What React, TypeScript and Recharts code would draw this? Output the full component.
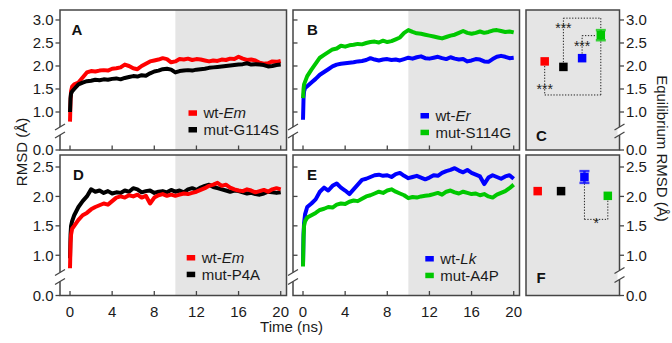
import React from 'react';
import {
  LineChart, Line, XAxis, YAxis, ReferenceArea, ScatterChart, Scatter,
  ErrorBar, ReferenceLine, ReferenceDot,
} from 'recharts';

const FONT = '"Liberation Sans", Arial, Helvetica, sans-serif';
const AXIS = '#454545';
const TXT = '#1a1a1a';
const SHADE = '#e5e5e5';
const RED = '#ff0000';
const BLACK = '#000000';
const BLUE = '#0000ff';
const GREEN = '#00c800';

// ---------- data ----------
const times = [0, 0.05, 0.1, 0.2, 0.4, 0.8, 1.2, 1.6, 2, 2.4, 2.8, 3.2, 3.6, 4, 4.4, 4.8, 5.2, 5.6, 6, 6.4,
  6.8, 7.2, 7.6, 8, 8.4, 8.8, 9.2, 9.6, 10, 10.4, 10.8, 11.2, 11.6, 12, 12.4, 12.8, 13.2, 13.6, 14, 14.4,
  14.8, 15.2, 15.6, 16, 16.4, 16.8, 17.2, 17.6, 18, 18.4, 18.8, 19.2, 19.6, 20];

const wtEmA = [0.79, 1.25, 1.45, 1.55, 1.60, 1.64, 1.75, 1.86, 1.89, 1.88, 1.90, 1.91, 1.90, 1.94,
  1.95, 1.97, 2.03, 2.00, 1.95, 1.93, 2.00, 2.05, 2.10, 2.12,
  2.14, 2.17, 2.15, 2.08, 2.10, 2.15, 2.14, 2.16, 2.13, 2.15,
  2.14, 2.12, 2.10, 2.12, 2.11, 2.14, 2.13, 2.16, 2.15, 2.20,
  2.16, 2.13, 2.14, 2.12, 2.07, 2.05, 2.06, 2.10, 2.09, 2.11];
const mutG114S = [1.00, 1.30, 1.40, 1.45, 1.50, 1.60, 1.64, 1.67, 1.68, 1.70, 1.69, 1.71, 1.70, 1.72,
  1.73, 1.71, 1.74, 1.76, 1.78, 1.77, 1.80, 1.79, 1.84, 1.88,
  1.90, 1.93, 1.94, 1.92, 1.86, 1.89, 1.90, 1.91, 1.90, 1.92,
  1.93, 1.94, 1.96, 1.97, 1.98, 1.99, 2.00, 2.01, 2.02, 2.03,
  2.04, 2.06, 2.03, 2.04, 2.03, 2.02, 1.99, 2.00, 2.02, 2.03];
const wtEr = [0.83, 1.30, 1.45, 1.52, 1.56, 1.64, 1.72, 1.81, 1.87, 1.93, 1.99, 2.03, 2.05, 2.06,
  2.07, 2.08, 2.10, 2.11, 2.13, 2.17, 2.14, 2.12, 2.14, 2.15,
  2.13, 2.14, 2.12, 2.15, 2.18, 2.16, 2.19, 2.21, 2.17, 2.16,
  2.18, 2.20, 2.17, 2.15, 2.19, 2.16, 2.14, 2.15, 2.10, 2.12,
  2.15, 2.14, 2.10, 2.09, 2.15, 2.20, 2.22, 2.20, 2.17, 2.18];
const mutS114G = [1.30, 1.50, 1.60, 1.66, 1.78, 1.92, 2.05, 2.18, 2.24, 2.30, 2.36, 2.38, 2.44, 2.42,
  2.45, 2.46, 2.48, 2.47, 2.50, 2.52, 2.53, 2.51, 2.55, 2.52,
  2.54, 2.58, 2.62, 2.72, 2.78, 2.74, 2.71, 2.70, 2.68, 2.66,
  2.64, 2.62, 2.60, 2.63, 2.66, 2.68, 2.72, 2.76, 2.72, 2.70,
  2.72, 2.75, 2.72, 2.74, 2.77, 2.78, 2.76, 2.74, 2.75, 2.73];
const wtEmD = [0.78, 1.20, 1.35, 1.45, 1.50, 1.60, 1.68, 1.72, 1.78, 1.82, 1.85, 1.88, 1.86, 1.92,
  1.98, 2.00, 1.98, 2.02, 2.00, 2.03, 1.98, 2.01, 1.88, 1.98,
  2.02, 2.04, 2.01, 2.03, 2.01, 2.03, 2.05, 2.04, 2.06, 2.08,
  2.11, 2.14, 2.18, 2.20, 2.23, 2.18, 2.20, 2.15, 2.12, 2.10,
  2.09, 2.12, 2.10, 2.07, 2.09, 2.11, 2.08, 2.12, 2.14, 2.12];
const mutP4A = [0.95, 1.35, 1.50, 1.58, 1.68, 1.82, 1.92, 2.00, 2.12, 2.08, 2.10, 2.06, 2.09, 2.05,
  2.07, 2.06, 2.10, 2.08, 2.14, 2.12, 2.07, 2.09, 2.10, 2.06,
  2.08, 2.09, 2.07, 2.11, 2.08, 2.10, 2.07, 2.12, 2.14, 2.11,
  2.15, 2.18, 2.20, 2.16, 2.14, 2.12, 2.10, 2.08, 2.10, 2.09,
  2.07, 2.05, 2.06, 2.04, 2.03, 2.05, 2.08, 2.07, 2.06, 2.07];
const wtLk = [0.84, 1.35, 1.55, 1.70, 1.82, 1.88, 1.95, 2.08, 2.15, 2.10, 2.18, 2.22, 2.15, 2.10,
  2.04, 2.12, 2.20, 2.28, 2.30, 2.33, 2.36, 2.37, 2.35, 2.36,
  2.33, 2.38, 2.40, 2.35, 2.31, 2.33, 2.35, 2.32, 2.29, 2.32,
  2.36, 2.35, 2.40, 2.43, 2.45, 2.48, 2.44, 2.41, 2.45, 2.40,
  2.37, 2.34, 2.21, 2.32, 2.36, 2.33, 2.30, 2.34, 2.36, 2.30];
const mutA4P = [0.81, 1.30, 1.50, 1.58, 1.64, 1.68, 1.72, 1.77, 1.79, 1.82, 1.81, 1.86, 1.88, 1.87,
  1.91, 1.93, 1.92, 1.96, 2.00, 2.02, 2.05, 2.08, 2.06, 2.10,
  2.12, 2.08, 2.05, 2.02, 1.97, 1.99, 1.98, 2.00, 2.01, 2.02,
  2.04, 2.06, 2.03, 2.08, 2.10, 2.07, 2.05, 2.08, 2.06, 2.04,
  2.05, 2.02, 2.04, 2.00, 1.98, 2.03, 2.06, 2.09, 2.14, 2.20];

// equilibrium RMSD panels
const eqCategories = ['wt', 'mut', 'wt', 'mut'];
const eqC = [2.10, 1.98, 2.17, 2.67];
const errC = [0.03, 0.03, 0.04, 0.11];
const colorsC = [RED, BLACK, BLUE, GREEN];
const eqF = [2.09, 2.09, 2.33, 2.01];
const errF = [0.03, 0.03, 0.10, 0.03];
const colorsF = [RED, BLACK, BLUE, GREEN];

// axes
const xTicks = [0, 4, 8, 12, 16, 20];
const xTickLabels = ['0', '4', '8', '12', '16', '20'];
const topDomain: [number, number] = [0.174, 3.217];
const topTicks = [0.174, 1, 1.5, 2, 2.5, 3];
const topTickLabels = ['0.0', '1.0', '1.5', '2.0', '2.5', '3.0'];
const botDomain: [number, number] = [0.316, 2.704];
const botTicks = [0.316, 1, 1.5, 2, 2.5];
const botTickLabels = ['0.0', '1.0', '1.5', '2.0', '2.5'];
const xDomain: [number, number] = [-0.95, 20.55];
const eqStart = 10;

// significance annotations (data coordinates)
type P = { x: number; y: number };
const bracketsC: [P, P][] = [
  [{ x: 1, y: 2.0 }, { x: 1, y: 1.37 }], [{ x: 1, y: 1.37 }, { x: 4, y: 1.37 }], [{ x: 4, y: 1.37 }, { x: 4, y: 2.55 }],
  [{ x: 2, y: 2.08 }, { x: 2, y: 3.04 }], [{ x: 2, y: 3.04 }, { x: 4, y: 3.04 }], [{ x: 4, y: 3.04 }, { x: 4, y: 2.79 }],
  [{ x: 3, y: 2.27 }, { x: 3, y: 2.66 }], [{ x: 3, y: 2.66 }, { x: 3.73, y: 2.66 }],
];
const starsC = [{ x: 1, y: 1.39, t: '***' }, { x: 2, y: 2.72, t: '***' }, { x: 3, y: 2.32, t: '***' }];
const bracketsF: [P, P][] = [
  [{ x: 3, y: 2.22 }, { x: 3, y: 1.61 }], [{ x: 3, y: 1.61 }, { x: 4, y: 1.61 }], [{ x: 4, y: 1.61 }, { x: 4, y: 1.93 }],
];
const starsF = [{ x: 3.5, y: 1.47, t: '*' }];

// ---------- layout ----------
const M = 5;
const MB = 14;
const WY = 45;
const HX = 25;

const fmt = (ticks: number[], labels: string[]) => (v: number) => {
  const i = ticks.indexOf(v);
  return i >= 0 ? labels[i] : String(v);
};

type TSProps = {
  x: number; y: number; w: number; h: number;
  s1: number[]; s2: number[]; c1: string; c2: string; first: 'a' | 'b';
  yDomain: [number, number]; yTicks: number[]; yLabels: string[];
  showY: boolean; showX: boolean;
};

function TimePanel(p: TSProps) {
  const data = times.map((t, i) => ({ t, a: p.s1[i], b: p.s2[i] }));
  const xTick = (tp: any) => {
    const i = xTicks.indexOf(tp.payload.value);
    return (
      <g>
        <line x1={tp.x} y1={tp.y} x2={tp.x} y2={tp.y - 4.5} stroke={AXIS} strokeWidth={1.3} />
        {p.showX && (
          <text x={tp.x} y={tp.y + 21} textAnchor="middle" fontSize={15} fill={TXT} fontFamily={FONT}>
            {xTickLabels[i]}
          </text>
        )}
      </g>
    );
  };
  const yTickIn = (tp: any) => (
    <line x1={tp.x} y1={tp.y} x2={tp.x + 4.5} y2={tp.y} stroke={AXIS} strokeWidth={1.3} />
  );
  const lines = [
    { k: 'a', c: p.c1 },
    { k: 'b', c: p.c2 },
  ];
  if (p.first === 'b') lines.reverse();
  return (
    <div style={{ position: 'absolute', left: p.x - M - WY, top: p.y - M }}>
      <LineChart width={p.w + WY + 2 * M} height={p.h + HX + 2 * M} data={data}
        margin={{ top: M, right: M, bottom: M, left: M }}>
        <XAxis type="number" dataKey="t" domain={xDomain} ticks={xTicks} allowDataOverflow
          axisLine={false} tickLine={false} tickSize={0} tickMargin={0} interval={0}
          height={HX} tick={xTick} />
        {p.showY ? (
          <YAxis type="number" domain={p.yDomain} ticks={p.yTicks} allowDataOverflow width={WY}
            axisLine={false} tickSize={4.5} tickMargin={2} interval={0}
            tickLine={{ stroke: AXIS, strokeWidth: 1.3 }}
            tick={{ fontSize: 15, fill: TXT, fontFamily: FONT }}
            tickFormatter={fmt(p.yTicks, p.yLabels)} />
        ) : (
          <YAxis type="number" domain={p.yDomain} ticks={p.yTicks.slice(1)} allowDataOverflow width={WY}
            axisLine={false} tickLine={false} tickSize={0} tickMargin={0} interval={0}
            tick={yTickIn} />
        )}
        <ReferenceArea x1={eqStart} x2={xDomain[1]} y1={p.yDomain[0]} y2={p.yDomain[1]}
          fill={SHADE} fillOpacity={1} stroke="none" ifOverflow="hidden" />
        {lines.map((l) => (
          <Line key={l.k} type="linear" dataKey={l.k} stroke={l.c} strokeWidth={4} dot={false}
            strokeLinejoin="round" isAnimationActive={false} />
        ))}
      </LineChart>
    </div>
  );
}

type EqProps = {
  x: number; y: number; w: number; h: number;
  vals: number[]; errs: number[]; colors: string[]; xd: [number, number];
  yDomain: [number, number]; yTicks: number[]; yLabels: string[];
  brackets: [P, P][]; stars: { x: number; y: number; t: string }[];
};

function EqPanel(p: EqProps) {
  const S = 8.5;
  return (
    <div style={{ position: 'absolute', left: p.x - M, top: p.y - M }}>
      <ScatterChart width={p.w + WY + 2 * M} height={p.h + M + MB}
        margin={{ top: M, right: M, bottom: MB, left: M }}>
        <XAxis type="number" dataKey="x" domain={p.xd} allowDataOverflow hide height={0} />
        <YAxis type="number" dataKey="y" orientation="right" domain={p.yDomain} ticks={p.yTicks}
          allowDataOverflow width={WY} axisLine={false} tickSize={4.5} tickMargin={2} interval={0}
          tickLine={{ stroke: AXIS, strokeWidth: 1.3 }}
          tick={{ fontSize: 15, fill: TXT, fontFamily: FONT }}
          tickFormatter={fmt(p.yTicks, p.yLabels)} />
        <ReferenceArea x1={p.xd[0]} x2={p.xd[1]} y1={p.yDomain[0]} y2={p.yDomain[1]}
          fill={SHADE} fillOpacity={1} stroke="none" />
        {p.brackets.map((seg, i) => (
          <ReferenceLine key={'b' + i} segment={seg} stroke="#222" strokeWidth={1}
            strokeDasharray="1.3 1.6" />
        ))}
        {p.stars.map((s, i) => (
          <ReferenceDot key={'s' + i} x={s.x} y={s.y} r={0}
            shape={(sp: any) => (
              <text x={sp.cx} y={sp.cy} textAnchor="middle" fontSize={14} fill="#222" fontFamily={FONT}>
                {s.t}
              </text>
            )} />
        ))}
        {p.vals.map((v, i) => (
          <Scatter key={'p' + i} name={eqCategories[i]} data={[{ x: i + 1, y: v, err: p.errs[i] }]}
            isAnimationActive={false}
            shape={(sp: any) => (
              <rect x={sp.cx - S / 2} y={sp.cy - S / 2} width={S} height={S} fill={p.colors[i]} />
            )}>
            {p.errs[i] > S / 2 / 46 && (
              <ErrorBar dataKey="err" direction="y" width={5} stroke={p.colors[i]} strokeWidth={2.5}
                strokeOpacity={0.75} />
            )}
          </Scatter>
        ))}
      </ScatterChart>
    </div>
  );
}

function Leg({ x, y, items }: { x: number; y: number; items: { c: string; pre: string; it: string }[] }) {
  return (
    <g>
      {items.map((d, i) => (
        <g key={i}>
          <rect x={x} y={y + i * 16.7 - 8} width={8.5} height={5.5} fill={d.c} />
          <text x={x + 15} y={y + i * 16.7} fontSize={15} fill={TXT} fontFamily={FONT}>
            {d.pre}
            {d.it && <tspan fontStyle="italic">{d.it}</tspan>}
          </text>
        </g>
      ))}
    </g>
  );
}

function Break({ x, y, gap }: { x: number; y: number; gap: number }) {
  return (
    <g>
      <rect x={x - 2} y={y - gap / 2} width={4} height={gap} fill="#fff" />
      <line x1={x - 5} y1={y - gap / 2 + 3} x2={x + 5} y2={y - gap / 2 - 3} stroke={AXIS} strokeWidth={1.3} />
      <line x1={x - 5} y1={y + gap / 2 + 3} x2={x + 5} y2={y + gap / 2 - 3} stroke={AXIS} strokeWidth={1.3} />
    </g>
  );
}

export default function App() {
  const TW = 226.5;
  const CW = 93.5;
  const frames = [
    [60, 10, TW, 140], [293, 10, TW, 140], [526, 10, CW, 140],
    [60, 155, TW, 140.5], [293, 155, TW, 140.5], [526, 155, CW, 140.5],
  ];
  return (
    <div style={{ position: 'absolute', left: 0, top: 0, width: 672, height: 343, background: '#fff', fontFamily: FONT }}>
      <TimePanel x={60} y={10} w={TW} h={140} s1={wtEmA} s2={mutG114S} c1={RED} c2={BLACK} first="a"
        yDomain={topDomain} yTicks={topTicks} yLabels={topTickLabels} showY showX={false} />
      <TimePanel x={293} y={10} w={TW} h={140} s1={wtEr} s2={mutS114G} c1={BLUE} c2={GREEN} first="a"
        yDomain={topDomain} yTicks={topTicks} yLabels={topTickLabels} showY={false} showX={false} />
      <TimePanel x={60} y={155} w={TW} h={140.5} s1={wtEmD} s2={mutP4A} c1={RED} c2={BLACK} first="b"
        yDomain={botDomain} yTicks={botTicks} yLabels={botTickLabels} showY showX />
      <TimePanel x={293} y={155} w={TW} h={140.5} s1={wtLk} s2={mutA4P} c1={BLUE} c2={GREEN} first="a"
        yDomain={botDomain} yTicks={botTicks} yLabels={botTickLabels} showY={false} showX />
      <EqPanel x={526} y={10} w={CW} h={140} vals={eqC} errs={errC} colors={colorsC} xd={[0, 5]}
        yDomain={topDomain} yTicks={topTicks} yLabels={topTickLabels} brackets={bracketsC} stars={starsC} />
      <EqPanel x={526} y={155} w={CW} h={140.5} vals={eqF} errs={errF} colors={colorsF} xd={[0.5, 4.5]}
        yDomain={botDomain} yTicks={botTicks} yLabels={botTickLabels} brackets={bracketsF} stars={starsF} />
      <svg width={672} height={343} style={{ position: 'absolute', left: 0, top: 0, pointerEvents: 'none' }}>
        {frames.map((f, i) => (
          <rect key={i} x={f[0]} y={f[1]} width={f[2]} height={f[3]} fill="none" stroke={AXIS} strokeWidth={1.5} />
        ))}
        <Break x={60} y={131} gap={8} />
        <Break x={293} y={131} gap={8} />
        <Break x={619.5} y={131} gap={8} />
        <Break x={60} y={277} gap={9} />
        <Break x={293} y={277} gap={9} />
        <Break x={619.5} y={275} gap={9} />
        <g fontFamily={FONT} fontWeight="bold" fontSize={15} fill="#111">
          <text x={71.5} y={35}>A</text>
          <text x={307} y={35}>B</text>
          <text x={536} y={141}>C</text>
          <text x={73} y={180}>D</text>
          <text x={307} y={180}>E</text>
          <text x={536.5} y={282.5}>F</text>
        </g>
        <Leg x={188.5} y={118.3} items={[{ c: RED, pre: 'wt-', it: 'Em' }, { c: BLACK, pre: 'mut-G114S', it: '' }]} />
        <Leg x={420.5} y={121} items={[{ c: BLUE, pre: 'wt-', it: 'Er' }, { c: GREEN, pre: 'mut-S114G', it: '' }]} />
        <Leg x={186.7} y={263} items={[{ c: RED, pre: 'wt-', it: 'Em' }, { c: BLACK, pre: 'mut-P4A', it: '' }]} />
        <Leg x={425.3} y={264} items={[{ c: BLUE, pre: 'wt-', it: 'Lk' }, { c: GREEN, pre: 'mut-A4P', it: '' }]} />
        <text x={291.5} y={332} textAnchor="middle" fontSize={15} fill={TXT} fontFamily={FONT}>Time (ns)</text>
        <text transform="translate(26.5,152) rotate(-90)" textAnchor="middle" fontSize={15} fill={TXT} fontFamily={FONT}>RMSD (Å)</text>
        <text transform="translate(656.5,148.5) rotate(90)" textAnchor="middle" fontSize={15} fill={TXT} fontFamily={FONT}>Equilibrium RMSD (Å)</text>
      </svg>
    </div>
  );
}
